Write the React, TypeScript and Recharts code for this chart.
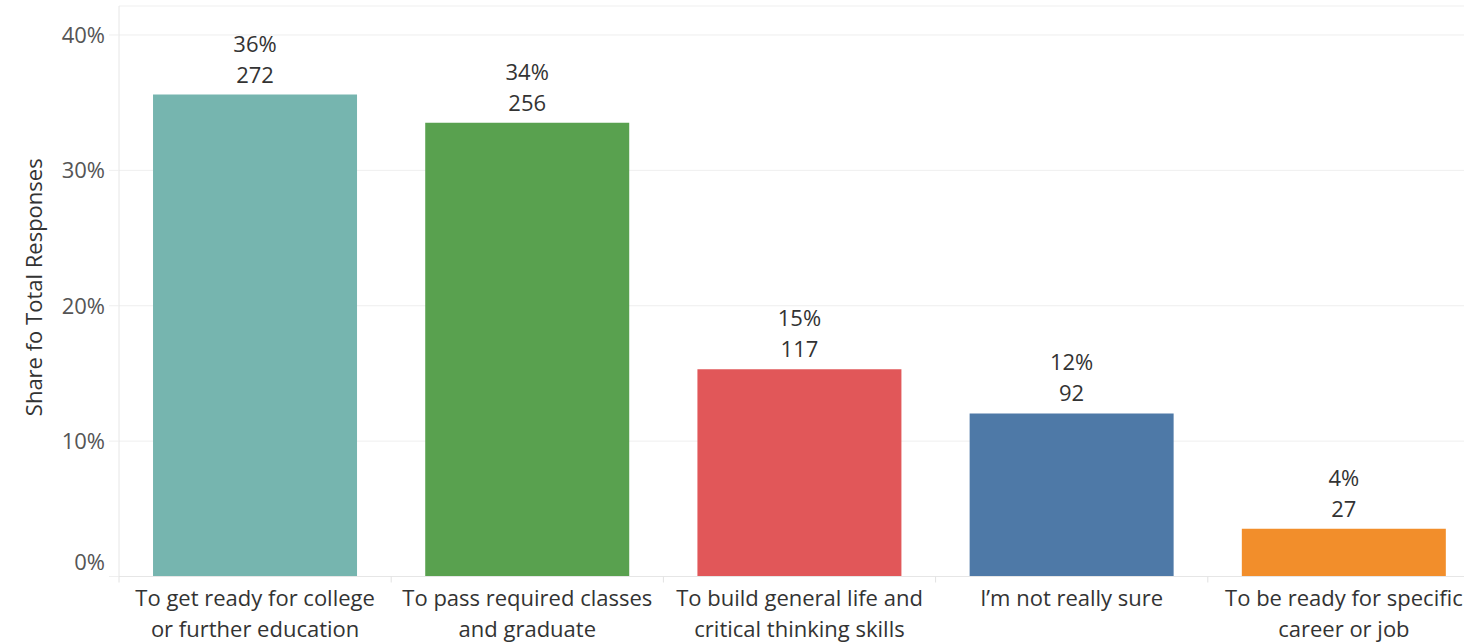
import React from "react";
import { BarChart, Bar, XAxis, YAxis, CartesianGrid, LabelList, Cell } from "recharts";

const categories = [
  "To get ready for college\nor further education",
  "To pass required classes\nand graduate",
  "To build general life and\ncritical thinking skills",
  "I’m not really sure",
  "To be ready for specific\ncareer or job",
];
const counts = [272, 256, 117, 92, 27];
const colors = ["#76b5af", "#59a14f", "#e15759", "#4e79a7", "#f28e2b"];
const yTicks = [0, 0.1, 0.2, 0.3, 0.4];

const total = counts.reduce((a, b) => a + b, 0);
const data = categories.map((name, i) => ({
  name,
  count: counts[i],
  share: counts[i] / total,
}));

const FONT = "'Open Sans', sans-serif";
const FS = 22;
const CHART_W = 1480;
const CHART_H = 642;
const Y_W = 119;
const BAND = (CHART_W - Y_W) / categories.length;

function XTick(props: any) {
  const { x, y, payload } = props;
  const lines = String(payload.value).split("\n");
  const axisY = y - 8;
  return (
    <g>
      <line x1={x - BAND / 2} x2={x - BAND / 2} y1={axisY} y2={axisY + 6} stroke="#e2e2e2" />
      <text x={x} y={y} textAnchor="middle" fill="#333" fontSize={FS} fontFamily={FONT}>
        {lines.map((l, i) => (
          <tspan key={i} x={x} dy={i === 0 ? 21.5 : 31}>
            {l}
          </tspan>
        ))}
      </text>
    </g>
  );
}

function YTick(props: any) {
  const { x, y, payload } = props;
  const shift = payload.value === 0 ? -14.5 : 0;
  return (
    <text x={x} y={y + shift} dy={8} textAnchor="end" fill="#555" fontSize={FS} fontFamily={FONT}>
      {Math.round(payload.value * 100)}%
    </text>
  );
}

function BarLabel(props: any) {
  const { x, y, width, index } = props;
  const cx = x + width / 2;
  const d = data[index];
  return (
    <g fontFamily={FONT} fontSize={FS} fill="#333" textAnchor="middle">
      <text x={cx} y={y - 43}>{Math.round(d.share * 100)}%</text>
      <text x={cx} y={y - 12}>{d.count}</text>
    </g>
  );
}

function AxisTitle(props: any) {
  const { viewBox } = props;
  const cy = viewBox.y + viewBox.height / 2 - 4;
  return (
    <text
      x={33}
      y={cy}
      transform={`rotate(-90, 33, ${cy})`}
      textAnchor="middle"
      dominantBaseline="central"
      fill="#333"
      fontSize={FS}
      fontFamily={FONT}
    >
      Share fo Total Responses
    </text>
  );
}

export default function App() {
  return (
    <div
      style={{
        position: "absolute",
        left: 0,
        top: 0,
        width: 1464,
        height: 642,
        overflow: "hidden",
        background: "#fff",
      }}
    >
      <BarChart
        width={CHART_W}
        height={CHART_H}
        data={data}
        margin={{ top: 6, right: 0, left: 0, bottom: 0 }}
        barCategoryGap="12.5%"
      >
        <CartesianGrid vertical={false} stroke="#efefef" />
        <XAxis
          dataKey="name"
          interval={0}
          height={65.5}
          tickSize={6}
          tickMargin={2}
          tickLine={false}
          axisLine={{ stroke: "#e6e6e6" }}
          tick={<XTick />}
        />
        <YAxis
          width={Y_W}
          domain={[0, 0.4214]}
          ticks={yTicks}
          tickSize={10}
          tickMargin={4}
          tickLine={{ stroke: "#efefef" }}
          axisLine={{ stroke: "#e6e6e6" }}
          tick={<YTick />}
          label={<AxisTitle />}
        />
        <Bar dataKey="share" isAnimationActive={false}>
          {data.map((d, i) => (
            <Cell key={d.name} fill={colors[i]} />
          ))}
          <LabelList dataKey="count" content={<BarLabel />} />
        </Bar>
      </BarChart>
    </div>
  );
}
